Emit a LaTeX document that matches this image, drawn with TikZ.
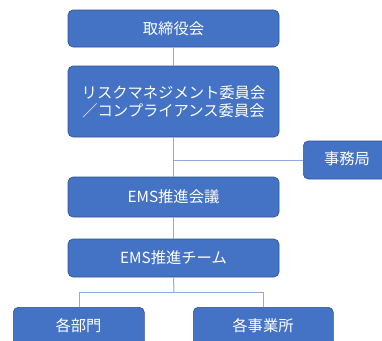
\documentclass[tikz,border=0pt]{standalone}
\usepackage{fontspec}
\setmainfont{Noto Sans CJK JP}
\definecolor{boxfill}{HTML}{4472C4}
\definecolor{boxline}{HTML}{2F528F}
\definecolor{conn}{HTML}{8FAADC}
\begin{document}
\begin{tikzpicture}[x=1pt,y=-1pt,
  orgbox/.style={draw=boxline,line width=0.6pt,fill=boxfill,rounded corners=5pt,text=white,font=\fontsize{15.3}{18.5}\selectfont,align=center,inner sep=0pt},
  lbl/.style={text=white,font=\fontsize{15.3}{18.5}\selectfont,inner sep=0pt},
  link/.style={draw=conn,line width=1pt}]
\useasboundingbox (0,0) rectangle (382,340);
\clip (0,0) rectangle (382,340);
\coordinate (split) at (174,160);
\coordinate (busL) at (79,292);
\coordinate (busR) at (263,292);
\coordinate (busM) at (174,292);
\node[orgbox,minimum width=211pt,minimum height=37pt] (board) at (173.5,28.5) {取締役会};
\node[orgbox,minimum width=211pt,minimum height=71pt] (comm) at (173.5,101.5) {リスクマネジメント委員会\\／コンプライアンス委員会};
\node[orgbox,minimum width=100pt,minimum height=38pt,anchor=west] (office) at (303,160) {};
\node[lbl] (officelbl) at (347,159) {事務局};
\node[orgbox,minimum width=211pt,minimum height=40pt] (meet) at (173.5,197) {EMS推進会議};
\node[orgbox,minimum width=211pt,minimum height=38pt] (team) at (173.5,258) {EMS推進チーム};
\node[orgbox,minimum width=131pt,minimum height=50pt,anchor=north west] (dept) at (13,307) {};
\node[orgbox,minimum width=140pt,minimum height=50pt,anchor=north west] (site) at (193,307) {};
\node[lbl] (deptlbl) at (78.5,325.5) {各部門};
\node[lbl] (sitelbl) at (263,325.5) {各事業所};
\draw[link] (board.south) -- (comm.north);
\draw[link] (comm.south) -- (meet.north);
\draw[link] (split) -- (office.west);
\draw[link] (meet.south) -- (team.north);
\draw[link] (team.south) -- (busM);
\draw[link] (busL) -- (busR);
\draw[link] (busL) -- (busL |- dept.north);
\draw[link] (busR) -- (busR |- site.north);
\end{tikzpicture}
\end{document}
